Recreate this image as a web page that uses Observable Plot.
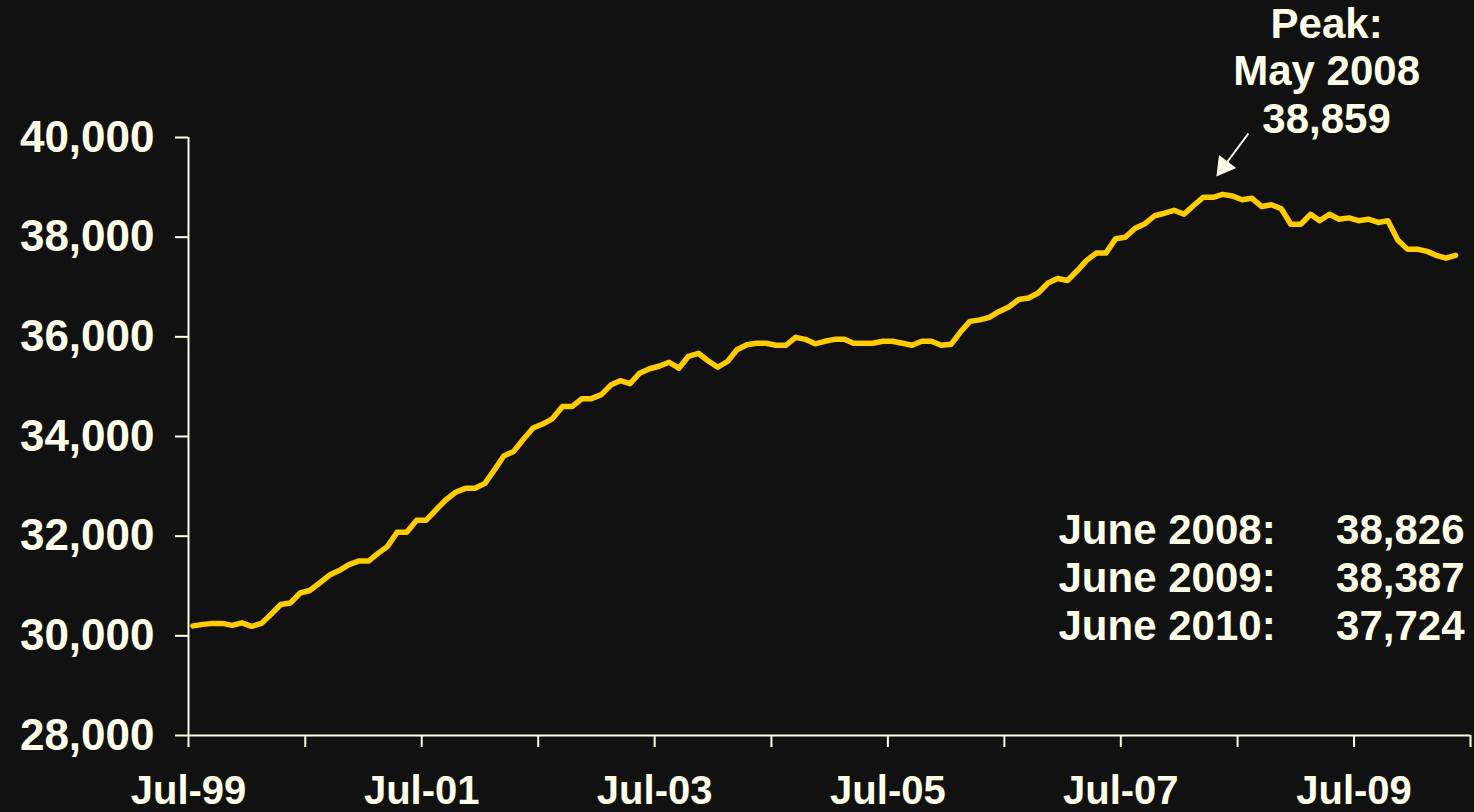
<!DOCTYPE html>
<html><head><meta charset="utf-8">
<script src="https://cdn.jsdelivr.net/npm/d3@7"></script>
<script src="https://cdn.jsdelivr.net/npm/@observablehq/plot@0.6"></script>
<style>html,body{margin:0;padding:0;background:#111111;}svg{display:block}</style>
</head><body><div id="chart"></div>
<script>
// Monthly series, Jul-1999 ... May-2010
const startYear = 1999, startMonth = 6; // July (0-based)
const values = [
  30200, 30230, 30250, 30250, 30210, 30260, 30190, 30250, 30430, 30630, 30660, 30860,
  30910, 31060, 31220, 31310, 31430, 31500, 31500, 31660, 31790, 32080, 32080, 32320,
  32320, 32530, 32730, 32880, 32960, 32960, 33060, 33340, 33610, 33700, 33940, 34170,
  34250, 34360, 34600, 34600, 34760, 34760, 34840, 35040, 35120, 35060, 35270, 35360,
  35410, 35490, 35370, 35610, 35670, 35520, 35390, 35510, 35740, 35840, 35870, 35870,
  35830, 35830, 35990, 35950, 35860, 35910, 35950, 35950, 35870, 35870, 35870, 35910,
  35910, 35870, 35830, 35910, 35910, 35830, 35850, 36110, 36310, 36340, 36390, 36510,
  36600, 36750, 36780, 36880, 37080, 37170, 37130, 37330, 37530, 37680, 37680, 37970,
  38000, 38180, 38270, 38430, 38480, 38540, 38460, 38640, 38800, 38800, 38859, 38826,
  38750, 38780, 38615, 38650, 38570, 38260, 38260, 38460, 38330, 38460, 38360, 38387,
  38330, 38360, 38295, 38328, 37945, 37760, 37760, 37715, 37635, 37580, 37635
];
const yTicks = [28000, 30000, 32000, 34000, 36000, 38000, 40000];
const xTickYears = [1999, 2000, 2001, 2002, 2003, 2004, 2005, 2006, 2007, 2008, 2009, 2010];
const xTickLabels = ["Jul-99", "", "Jul-01", "", "Jul-03", "", "Jul-05", "", "Jul-07", "", "Jul-09", ""];
const peakIndex = 106;
const peakLabel = "Peak:\nMay 2008\n38,859";
const juneLabels = ["June 2008:", "June 2009:", "June 2010:"];
const juneValues = ["38,826", "38,387", "37,724"];

const cream = "#FFFFEA";
const gold = "#FFCC00";

const data = values.map((v, i) => ({date: new Date(Date.UTC(startYear, startMonth + i, 15)), value: v}));
const xTicks = xTickYears.map(y => new Date(Date.UTC(y, 6, 1)));
const labelMap = new Map(xTicks.map((d, i) => [+d, xTickLabels[i]]));
const peak = data[peakIndex];
const arrowStart = {date: new Date(Date.UTC(2008, 7, 4)), value: 40080};
const arrowHead = {date: new Date(Date.UTC(2008, 4, 19)), value: 39418};

const chart = Plot.plot({
  width: 1474, height: 812,
  marginLeft: 188, marginRight: 4, marginTop: 137, marginBottom: 77,
  style: {background: "#111111", color: cream, fontFamily: "'Liberation Sans', Arial, sans-serif",
          fontWeight: "bold", fontSize: "42px", overflow: "visible"},
  x: {type: "utc", domain: [xTicks[0], xTicks[xTicks.length - 1]]},
  y: {domain: [28000, 40000]},
  marks: [
    Plot.axisY({ticks: yTicks, tickSize: 13, tickPadding: 21, tickFormat: d3.format(","), label: null, strokeWidth: 2, fontSize: 44}),
    Plot.axisX({ticks: xTicks, tickSize: 12, tickPadding: 28, tickFormat: d => labelMap.get(+d) ?? "", label: null, strokeWidth: 2, fontSize: 40}),
    Plot.ruleX([xTicks[0]], {stroke: cream, strokeWidth: 2}),
    Plot.ruleY([28000], {stroke: cream, strokeWidth: 2}),
    Plot.line(data, {x: "date", y: "value", stroke: gold, strokeWidth: 5.5, strokeLinejoin: "round", strokeLinecap: "round"}),
    Plot.text([peak], {x: "date", y: "value", text: () => peakLabel, dx: 104, dy: -61, lineAnchor: "bottom", lineHeight: 1.14, fill: cream, fontSize: 42}),
    Plot.link([0], {x1: () => arrowStart.date, y1: () => arrowStart.value, x2: () => arrowHead.date, y2: () => arrowHead.value, stroke: cream, strokeWidth: 2}),
    Plot.dot([arrowHead], {x: "date", y: "value", symbol: "triangle", r: 8, fill: cream, stroke: "none", rotate: -143}),
    Plot.text([juneLabels.join("\n")], {frameAnchor: "right", text: d => d, dx: -412, dy: 203, textAnchor: "start", lineAnchor: "bottom", lineHeight: 1.14, fill: cream, fontSize: 42}),
    Plot.text([juneValues.join("\n")], {frameAnchor: "right", text: d => d, dx: -6, dy: 203, textAnchor: "end", lineAnchor: "bottom", lineHeight: 1.14, fill: cream, fontSize: 42})
  ]
});
document.getElementById("chart").appendChild(chart);
</script>
</body></html>
